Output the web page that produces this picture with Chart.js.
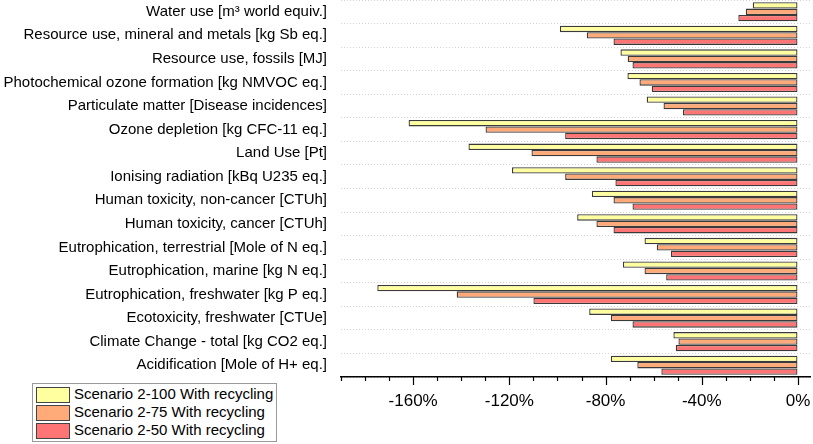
<!DOCTYPE html>
<html>
<head>
<meta charset="utf-8">
<script src="https://cdn.jsdelivr.net/npm/chart.js@4"></script>
<style>
  html, body { margin: 0; padding: 0; background: #fff; }
  #wrap { position: relative; width: 813px; height: 444px; }
  #legend { position: absolute; left: 32px; top: 383px; width: 243px; height: 57px;
    border: 1px solid #9a9a9a; background: #fff; font-family: "Liberation Sans", Arial, sans-serif;
    font-size: 15px; color: #000; box-sizing: content-box; }
  .item { position: absolute; left: 2px; height: 16px; line-height: 16px; white-space: nowrap; }
  .sw { position: absolute; left: 1px; top: 0; width: 32px; height: 14px; border: 1px solid #444; }
  .tx { position: absolute; left: 39px; top: -1px; }
</style>
</head>
<body>
<div id="wrap">
  <canvas id="c" width="813" height="444"></canvas>
  <div id="legend"></div>
</div>
<script>
const categories = [
  "Water use [m³ world equiv.]",
  "Resource use, mineral and metals [kg Sb eq.]",
  "Resource use, fossils [MJ]",
  "Photochemical ozone formation [kg NMVOC eq.]",
  "Particulate matter [Disease incidences]",
  "Ozone depletion [kg CFC-11 eq.]",
  "Land Use [Pt]",
  "Ionising radiation [kBq U235 eq.]",
  "Human toxicity, non-cancer [CTUh]",
  "Human toxicity, cancer [CTUh]",
  "Eutrophication, terrestrial [Mole of N eq.]",
  "Eutrophication, marine [kg N eq.]",
  "Eutrophication, freshwater [kg P eq.]",
  "Ecotoxicity, freshwater [CTUe]",
  "Climate Change - total [kg CO2 eq.]",
  "Acidification [Mole of H+ eq.]"
];
const seriesNames = [
  "Scenario 2-100 With recycling",
  "Scenario 2-75 With recycling",
  "Scenario 2-50 With recycling"
];
const scenario100 = [-18.8, -99.0, -73.8, -70.9, -62.9, -161.9, -137.0, -118.9, -85.7, -91.8, -63.8, -72.8, -174.9, -86.8, -51.8, -77.8];
const scenario75  = [-21.7, -87.8, -70.8, -65.9, -55.9, -129.9, -110.8, -96.8, -76.7, -83.8, -58.7, -63.8, -141.9, -77.8, -49.7, -66.8];
const scenario50  = [-24.8, -76.7, -68.8, -60.8, -47.8, -96.8, -83.8, -75.9, -68.8, -76.7, -52.8, -54.8, -110.0, -68.8, -50.8, -56.8];
const majorTicks = [-160, -120, -80, -40, 0];
const seriesColors = ["#FFFFA0", "#FFAA78", "#FF7474"];

const seriesValues = [scenario100, scenario75, scenario50];
const datasets = seriesNames.map((n, i) => ({
  label: n,
  data: seriesValues[i],
  backgroundColor: seriesColors[i],
  borderColor: "#3a3a3a",
  borderWidth: 1.3,
  borderSkipped: false,
  categoryPercentage: 0.81,
  barPercentage: 1.0
}));

const tickPlugin = {
  id: "xticks",
  afterDraw(chart) {
    const xs = chart.scales.x;
    const ctx = chart.ctx;
    ctx.save();
    ctx.strokeStyle = "#000";
    ctx.lineWidth = 1.2;
    xs.ticks.forEach(t => {
      const px = Math.round(xs.getPixelForValue(t.value)) + 0.5;
      const major = majorTicks.includes(t.value);
      ctx.beginPath();
      ctx.moveTo(px, xs.top);
      ctx.lineTo(px, xs.top + (major ? 8 : 4));
      ctx.stroke();
    });
    ctx.restore();
  }
};

const chart = new Chart(document.getElementById("c"), {
  type: "bar",
  data: { labels: categories, datasets },
  plugins: [tickPlugin],
  options: {
    indexAxis: "y",
    responsive: false,
    animation: false,
    layout: { padding: { top: 0, right: 3, left: 0, bottom: 0 } },
    plugins: { legend: { display: false }, tooltip: { enabled: false } },
    scales: {
      x: {
        min: -190, max: 5,
        afterBuildTicks(scale) {
          const t = [];
          for (let v = -190; v <= 0; v += 10) t.push({ value: v });
          scale.ticks = t;
        },
        afterFit(scale) { scale.height = 67; scale.paddingLeft = 0; scale.paddingRight = 0; },
        grid: { drawOnChartArea: false, drawTicks: true, tickLength: 8, tickColor: "rgba(0,0,0,0)" },
        border: { display: true, color: "#000", width: 1.5 },
        ticks: {
          autoSkip: false, maxRotation: 0, padding: 6, color: "#000",
          font: { family: "'Liberation Sans', Arial, sans-serif", size: 17 },
          callback: (v) => majorTicks.includes(v) ? (v === 0 ? "0%" : v + "%") : ""
        }
      },
      y: {
        afterFit(scale) { scale.width = 341; scale.paddingTop = 0; scale.paddingBottom = 0; },
        grid: { display: true, drawTicks: false, color: "#d4d4d4", lineWidth: 1, offset: true },
        border: { display: false, dash: [1, 2] },
        ticks: {
          padding: 14, color: "#000", autoSkip: false,
          font: { family: "'Liberation Sans', Arial, sans-serif", size: 15 }
        }
      }
    }
  }
});

const lg = document.getElementById("legend");
seriesNames.forEach((n, i) => {
  const d = document.createElement("div");
  d.className = "item";
  d.style.top = (3 + i * 18) + "px";
  d.innerHTML = '<span class="sw" style="background:' + seriesColors[i] + '"></span><span class="tx"></span>';
  d.querySelector(".tx").textContent = n;
  lg.appendChild(d);
});
</script>
</body>
</html>
